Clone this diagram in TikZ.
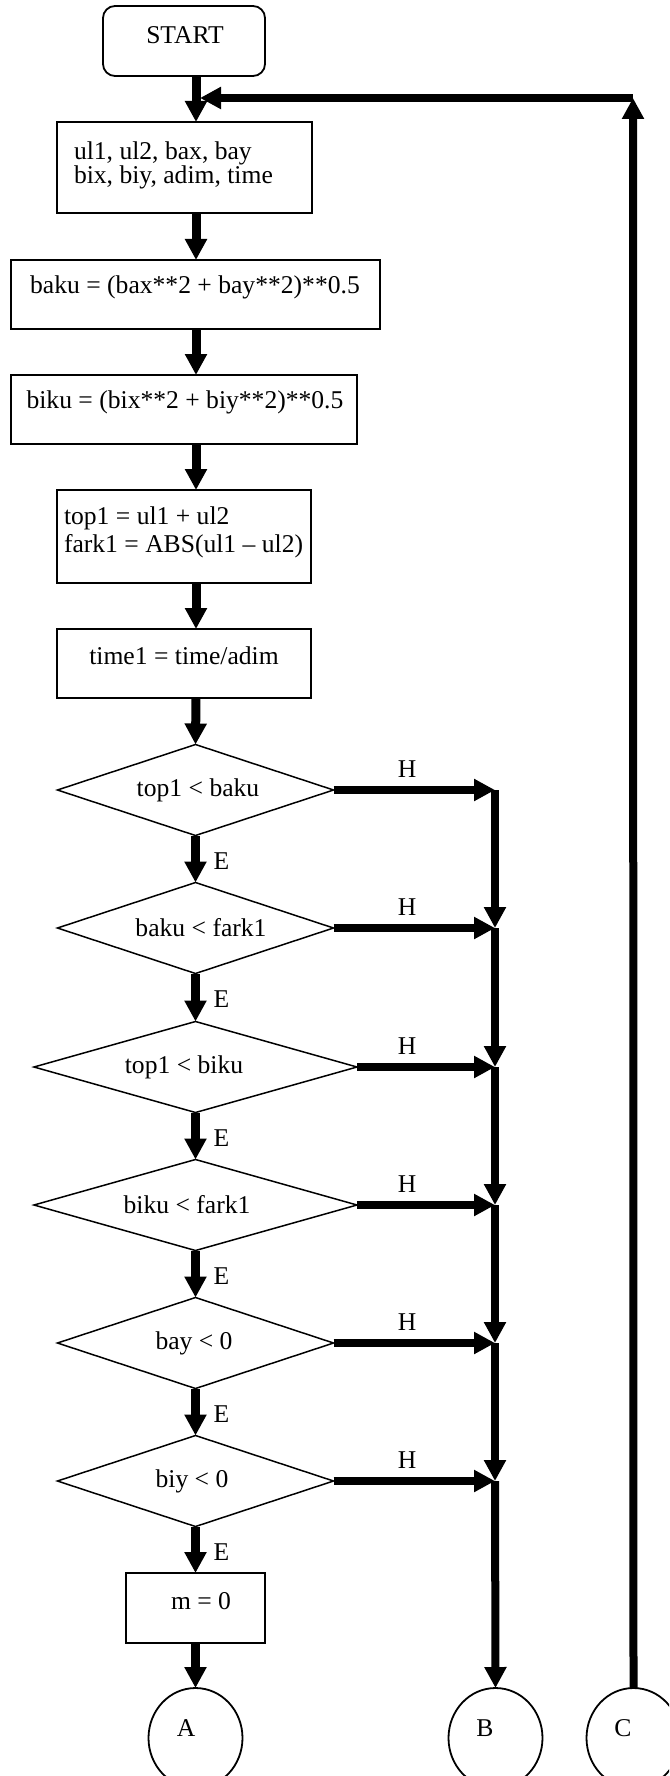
\documentclass[tikz,border=0pt]{standalone}
\usepackage{fontspec}
\setmainfont{Liberation Serif}
\usetikzlibrary{arrows.meta,shapes.geometric}

\begin{document}
\begin{tikzpicture}[x=1pt,y=-1pt,
  txt/.style={font=\fontsize{25.6}{28}\selectfont, inner sep=0pt, outer sep=0pt},
  frame/.style={draw, line width=1.8pt, inner sep=0pt, outer sep=0pt},
  test/.style={draw, diamond, aspect=3, line width=1.5pt, inner sep=0pt, outer sep=0pt},
  term/.style={frame, ellipse, minimum width=94pt, minimum height=100pt},
  flow/.style={line width=9pt, -{Triangle[length=21pt,width=21pt]}},
  side/.style={line width=8pt, -{Triangle[length=21pt,width=21pt]}},
  elabel/.style={txt, anchor=west, xshift=18pt, yshift=-2pt}
]
\useasboundingbox (0,0) rectangle (669,1776);
\clip (0,0) rectangle (669,1776);

% ---- process steps ----
\node[frame, rounded corners=12pt, minimum width=162pt, minimum height=70pt] (start) at (184,41) {};
\node[txt] (start-t) at (185,35) {START};

\node[frame, minimum width=255pt, minimum height=91pt] (inp) at (184.5,167.5) {};
\node[txt, align=left, anchor=west, font=\fontsize{25.6}{24}\selectfont] (inp-t) at (74,165.5)
  {ul1, ul2, bax, bay\\bix, biy, adim, time};

\node[frame, minimum width=369pt, minimum height=69pt] (baku) at (195.5,294.5) {};
\node[txt] (baku-t) at (195,287) {baku = (bax**2 + bay**2)**0.5};

\node[frame, minimum width=346pt, minimum height=69pt] (biku) at (184,409.5) {};
\node[txt] (biku-t) at (185,402.5) {biku = (bix**2 + biy**2)**0.5};

\node[frame, minimum width=254pt, minimum height=93pt] (sum) at (184,536.5) {};
\node[txt, align=left, anchor=west] (sum-t) at (64,532) {top1 = ul1 + ul2\\fark1 = ABS(ul1 – ul2)};

\node[frame, minimum width=254pt, minimum height=69pt] (tm) at (184,663.5) {};
\node[txt] (tm-t) at (184,656) {time1 = time/adim};

% ---- tests ----
\node[test, minimum width=276pt, minimum height=91pt] (d1) at (195.5,790) {};
\node[txt] (d1-t) at (198,790) {top1 < baku};
\node[test, minimum width=276pt, minimum height=91pt] (d2) at (195.5,928) {};
\node[txt] (d2-t) at (201,928) {baku < fark1};
\node[test, minimum width=323pt, minimum height=91pt] (d3) at (195.5,1067) {};
\node[txt] (d3-t) at (184,1067) {top1 < biku};
\node[test, minimum width=323pt, minimum height=91pt] (d4) at (195.5,1205) {};
\node[txt] (d4-t) at (187,1205) {biku < fark1};
\node[test, minimum width=276pt, minimum height=91pt] (d5) at (195.5,1343) {};
\node[txt] (d5-t) at (194,1343) {bay < 0};
\node[test, minimum width=276pt, minimum height=91pt] (d6) at (195.5,1481) {};
\node[txt] (d6-t) at (192,1481) {biy < 0};

\node[frame, minimum width=139pt, minimum height=70pt] (m0) at (195.5,1608) {};
\node[txt] (m0-t) at (201,1601) {m = 0};

% ---- connectors (off-page) ----
\node[term] (A) at (195.5,1738) {};
\node[txt] (A-t) at (186,1728) {A};
\node[term] (B) at (495.5,1738) {};
\node[txt] (B-t) at (485,1728) {B};
\node[term] (C) at (633.5,1738) {};
\node[txt] (C-t) at (623,1728) {C};

% ---- main flow ----
\coordinate (ax) at (196,0);
\draw[flow] (start.south -| ax) -- (inp.north -| ax);
\draw[flow] (inp.south -| ax) -- (baku.north -| ax);
\draw[flow] (baku.south -| ax) -- (biku.north -| ax);
\draw[flow] (biku.south -| ax) -- (sum.north -| ax);
\draw[flow] (sum.south -| ax) -- (tm.north -| ax);
\draw[flow] (tm.south -| ax) -- (d1.north);
\draw[flow] (d1.south) -- node[elabel] (e1) {E} (d2.north);
\draw[flow] (d2.south) -- node[elabel] (e2) {E} (d3.north);
\draw[flow] (d3.south) -- node[elabel] (e3) {E} (d4.north);
\draw[flow] (d4.south) -- node[elabel] (e4) {E} (d5.north);
\draw[flow] (d5.south) -- node[elabel] (e5) {E} (d6.north);
\draw[flow] (d6.south) -- node[elabel] (e6) {E} (m0.north);
\draw[flow] (m0.south) -- (A.north);

% ---- "H" branches collected into B ----
\coordinate (j1) at (495,790);
\coordinate (j2) at (495,928);
\coordinate (j3) at (495,1067);
\coordinate (j4) at (495,1205);
\coordinate (j5) at (495,1343);
\coordinate (j6) at (495,1481);
\draw[side] (d1.east) -- (j1);
\draw[side] (d2.east) -- (j2);
\draw[side] (d3.east) -- (j3);
\draw[side] (d4.east) -- (j4);
\draw[side] (d5.east) -- (j5);
\draw[side] (d6.east) -- (j6);
\node[txt] (h1) at (407,769) {H};
\node[txt] (h2) at (407,907) {H};
\node[txt] (h3) at (407,1046) {H};
\node[txt] (h4) at (407,1184) {H};
\node[txt] (h5) at (407,1322) {H};
\node[txt] (h6) at (407,1460) {H};
\draw[side] (j1) -- (j2);
\draw[side] (j2) -- (j3);
\draw[side] (j3) -- (j4);
\draw[side] (j4) -- (j5);
\draw[side] (j5) -- (j6);
\draw[side] (j6) -- (B.north);

% ---- loop back from C ----
\coordinate (corner) at (633,98);
\coordinate (join) at (200,98);
\draw[side] (C.north) -- (corner);
\draw[side] (corner) -- (join);
\end{tikzpicture}
\end{document}
